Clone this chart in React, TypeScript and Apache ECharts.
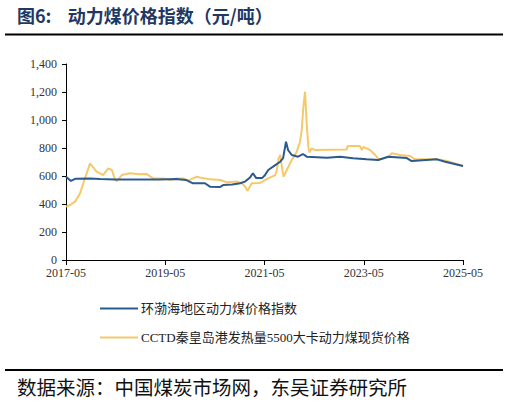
import React, { useEffect, useRef } from "react";
import * as echarts from "echarts";

const TITLE = "图6:    动力煤价格指数（元/吨）";
const SOURCE = "数据来源：中国煤炭市场网，东吴证券研究所";
const SERIES_NAMES = ["环渤海地区动力煤价格指数", "CCTD秦皇岛港发热量5500大卡动力煤现货价格"];
const X_TICKS = ["2017-05", "2019-05", "2021-05", "2023-05", "2025-05"];

const bspiDates = [
  "2017-05-01", "2017-06-07", "2017-07-07", "2017-10-25", "2018-01-07", "2018-04-28",
  "2019-03-22", "2019-07-19", "2019-10-01", "2019-11-22", "2020-02-19", "2020-03-25",
  "2020-06-10", "2020-07-01", "2020-09-07", "2020-11-04", "2020-12-10", "2021-01-16",
  "2021-02-07", "2021-03-01", "2021-04-13", "2021-05-04", "2021-05-28", "2021-07-19",
  "2021-08-25", "2021-09-16", "2021-10-07", "2021-10-22", "2021-11-19", "2022-01-04",
  "2022-02-10", "2022-03-07", "2022-08-04", "2022-11-10", "2023-02-13", "2023-05-22",
  "2023-08-16", "2023-10-28", "2024-03-13", "2024-04-19", "2024-10-22", "2024-12-22",
  "2025-05-01",
];
const bspiValues = [
  595, 565, 580, 583, 578, 575,
  575, 578, 572, 548, 548, 524,
  522, 535, 540, 548, 560, 590,
  620, 585, 585, 605, 643, 678,
  702, 728, 845, 785, 750, 738,
  757, 738, 730, 737, 726, 719,
  714, 738, 728, 707, 719, 702,
  671,
];

const cctdDates = [
  "2017-05-01", "2017-06-01", "2017-07-07", "2017-08-13", "2017-09-07", "2017-10-01",
  "2017-10-25", "2017-12-13", "2018-02-01", "2018-03-07", "2018-04-04", "2018-04-28",
  "2018-05-10", "2018-06-16", "2018-08-16", "2018-10-16", "2018-12-16", "2019-02-04",
  "2019-04-16", "2019-06-07", "2019-07-25", "2019-09-13", "2019-10-19", "2019-12-19",
  "2020-01-13", "2020-03-25", "2020-06-10", "2020-07-28", "2020-10-10", "2020-11-16",
  "2020-12-10", "2020-12-28", "2021-01-28", "2021-03-28", "2021-05-04", "2021-05-28",
  "2021-06-25", "2021-07-19", "2021-08-01", "2021-08-13", "2021-08-25", "2021-09-07",
  "2021-09-19", "2021-10-13", "2021-11-19", "2021-12-25", "2022-01-19", "2022-02-01",
  "2022-02-13", "2022-02-25", "2022-03-07", "2022-03-19", "2022-03-28", "2022-04-13",
  "2022-05-07", "2022-12-28", "2023-01-04", "2023-04-04", "2023-04-16", "2023-04-28",
  "2023-06-16", "2023-07-25", "2023-08-19", "2023-09-25", "2023-11-01", "2023-11-25",
  "2024-01-25", "2024-04-07", "2024-05-13", "2024-09-04", "2024-10-16", "2025-01-04",
  "2025-05-01",
];
const cctdValues = [
  381, 393, 417, 476, 550, 619,
  690, 631, 607, 655, 643, 571,
  564, 607, 619, 612, 614, 583,
  583, 571, 583, 583, 567, 595,
  590, 576, 571, 555, 560, 548,
  524, 495, 548, 550, 571, 583,
  595, 607, 643, 726, 750, 667,
  595, 643, 714, 774, 845, 929,
  1095, 1202, 978, 810, 767, 798,
  786, 790, 814, 814, 786, 807,
  786, 750, 719, 726, 738, 762,
  750, 743, 719, 719, 722, 708,
  671,
];

const Y_MIN = 0;
const Y_MAX = 1400;
const Y_STEP = 200;

// month index since 2017-05 (fractional)
function monthIndex(d: string): number {
  const [y, m, day] = d.split("-").map(Number);
  return (y - 2017) * 12 + (m - 5) + (day - 1) / 30;
}
function monthLabel(v: number): string {
  const total = 4 + Math.round(v);
  const y = 2017 + Math.floor(total / 12);
  const m = (total % 12) + 1;
  return `${y}-${m < 10 ? "0" + m : m}`;
}

const X_MAX = monthIndex(X_TICKS[X_TICKS.length - 1] + "-01");

export default function App() {
  const ref = useRef<HTMLDivElement>(null);
  useEffect(() => {
    document.body.style.margin = "0";
    if (!ref.current) return;
    const chart = echarts.init(ref.current, undefined, { renderer: "svg" });
    const serif = "'Liberation Serif', 'Times New Roman', 'Noto Sans CJK SC', serif";
    const cjk = "'Liberation Serif', 'Noto Sans CJK SC', sans-serif";
    chart.setOption({
      animation: false,
      backgroundColor: "#ffffff",
      grid: { left: 66, right: 46, top: 64, bottom: 143, containLabel: false },
      xAxis: {
        type: "value",
        min: 0,
        max: X_MAX,
        interval: 24,
        axisLine: { lineStyle: { color: "#000", width: 1 } },
        axisTick: { show: true, length: 5, lineStyle: { color: "#000" } },
        axisLabel: {
          formatter: (v: number) => monthLabel(v),
          color: "#333",
          fontFamily: serif,
          fontSize: 12,
          margin: 7,
        },
        splitLine: { show: false },
      },
      yAxis: {
        type: "value",
        min: Y_MIN,
        max: Y_MAX,
        interval: Y_STEP,
        axisLine: { show: true, lineStyle: { color: "#000", width: 1 } },
        axisTick: { show: true, length: 4, lineStyle: { color: "#000" } },
        axisLabel: {
          formatter: (v: number) => v.toLocaleString("en-US"),
          color: "#333",
          fontFamily: serif,
          fontSize: 12,
          margin: 9,
        },
        splitLine: { show: false },
      },
      legend: {
        orient: "vertical",
        left: 95,
        top: 297,
        itemWidth: 38,
        itemHeight: 10,
        itemGap: 16,
        icon: "path://M0,4 L38,4 L38,6 L0,6 Z",
        textStyle: { fontFamily: cjk, fontSize: 13, color: "#222", padding: [0, 0, 0, -2] },
        data: SERIES_NAMES,
      },
      graphic: [
        {
          type: "text",
          left: 17,
          top: 6,
          style: {
            text: TITLE,
            fontFamily: "'Noto Sans CJK SC', sans-serif",
            fontWeight: "bold",
            fontSize: 18,
            fill: "#1F3864",
          },
        },
        {
          type: "line",
          shape: { x1: 5, y1: 34.5, x2: 503, y2: 34.5 },
          style: { stroke: "#000", lineWidth: 2 },
        },
        {
          type: "line",
          shape: { x1: 5, y1: 370, x2: 503, y2: 370 },
          style: { stroke: "#000", lineWidth: 2 },
        },
        {
          type: "text",
          left: 17,
          top: 377,
          style: {
            text: SOURCE,
            fontFamily: "'Noto Sans CJK SC', sans-serif",
            fontSize: 19.5,
            fill: "#111",
          },
        },
      ],
      series: [
        {
          name: SERIES_NAMES[0],
          type: "line",
          showSymbol: false,
          symbol: "none",
          z: 3,
          lineStyle: { color: "#2A5A8F", width: 2 },
          itemStyle: { color: "#2A5A8F" },
          data: bspiDates.map((d, i) => [monthIndex(d), bspiValues[i]]),
        },
        {
          name: SERIES_NAMES[1],
          type: "line",
          showSymbol: false,
          symbol: "none",
          z: 2,
          lineStyle: { color: "#F5C96A", width: 2 },
          itemStyle: { color: "#F5C96A" },
          data: cctdDates.map((d, i) => [monthIndex(d), cctdValues[i]]),
        },
      ],
    });
    return () => chart.dispose();
  }, []);
  return <div ref={ref} style={{ width: 509, height: 403 }} />;
}
